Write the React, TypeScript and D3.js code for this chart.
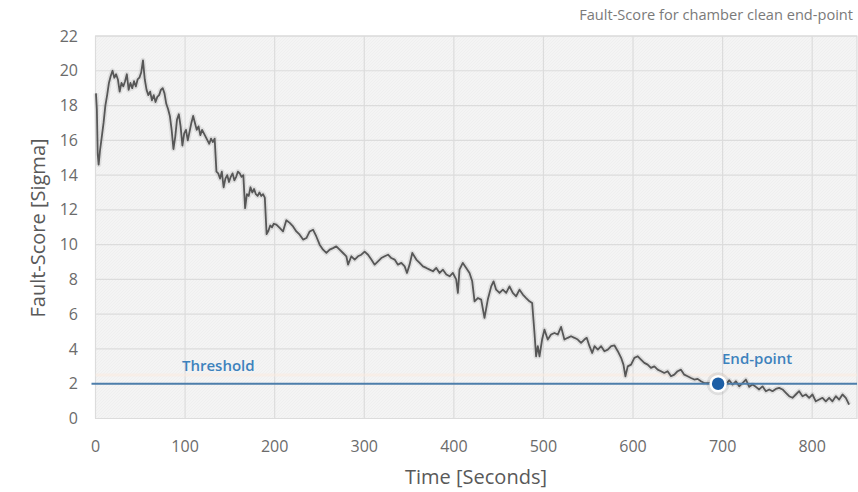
import React from 'react'
import * as d3 from 'd3'

// fault-score trace
const startTimes = [0.5, 1.5, 2.5, 3.5, 5, 7, 9, 11, 13, 15, 17, 19, 21, 23, 25, 27, 29, 31, 33, 35, 37, 39, 41, 43, 45, 47, 49, 51, 53, 55, 57, 59, 61, 63, 65, 67, 69, 71, 73, 75, 77, 79, 81, 83, 85, 87, 89, 91, 93, 95, 97, 99, 101, 103, 105, 107, 109, 111, 113, 115, 117, 119, 121, 123, 125, 127, 129, 131, 133, 135, 137, 139, 141, 143, 145, 147, 149, 151, 153, 155, 157, 159, 161, 163, 165, 167, 169, 171, 173, 175, 177, 179, 181, 183, 185, 187, 189, 191, 193, 195, 197, 199]
const startScores = [18.7, 17.8, 15.2, 14.6, 15.4, 16.2, 17.0, 18.0, 18.6, 19.3, 19.7, 20.0, 19.6, 19.8, 19.5, 18.8, 19.3, 19.1, 19.4, 19.8, 18.9, 19.3, 19.0, 19.4, 19.1, 19.5, 19.6, 19.9, 20.6, 19.5, 18.9, 18.6, 18.8, 18.3, 18.6, 18.2, 18.5, 18.6, 18.9, 19.0, 18.7, 18.1, 17.8, 17.4, 16.6, 15.5, 16.2, 17.2, 17.5, 16.8, 15.7, 16.4, 16.6, 16.0, 16.5, 17.0, 17.4, 17.0, 16.6, 16.8, 16.3, 16.6, 16.4, 16.2, 16.0, 15.8, 16.1, 15.9, 16.1, 14.2, 14.1, 13.8, 14.2, 13.3, 13.8, 14.0, 13.6, 13.9, 14.1, 13.7, 13.9, 14.2, 14.1, 13.9, 14.0, 12.1, 12.9, 12.8, 13.3, 13.0, 13.2, 12.9, 12.8, 13.0, 12.8, 12.9, 12.7, 10.6, 10.8, 11.1, 11.0, 11.2]

const midTimes = [201.9, 205.6, 209.3, 213.0, 216.8, 220.5, 224.2, 227.9, 231.7, 235.4, 239.1, 242.8, 246.5, 250.2, 254.0, 257.7, 261.4, 265.1, 268.8, 272.5, 276.3, 280.0, 281.9, 285.6, 289.3, 293.0, 296.7, 300.4, 304.2, 307.9, 311.6, 315.3, 319.0, 322.8, 326.5, 330.2, 333.9, 337.6, 341.4, 345.1, 347.7, 350.6, 353.6, 358.1, 361.8, 365.5, 369.2, 373.0, 376.7, 380.4, 384.1, 387.8, 391.6, 395.3]
const midScores = [11.15, 10.96, 10.76, 11.4, 11.25, 11.05, 10.76, 10.57, 10.29, 10.38, 10.76, 10.86, 10.47, 10.0, 9.71, 9.52, 9.71, 9.8, 9.9, 9.71, 9.52, 9.33, 8.85, 9.33, 9.14, 9.33, 9.42, 9.6, 9.42, 9.14, 8.85, 9.04, 9.23, 9.33, 9.42, 9.23, 9.14, 8.85, 8.95, 8.75, 8.37, 8.85, 9.52, 9.14, 8.95, 8.75, 8.66, 8.56, 8.47, 8.66, 8.37, 8.56, 8.28, 8.18]

const dropTimes = [398.9, 402.6, 404.5, 406.3, 410.0, 413.8, 417.5, 420.5, 423.1, 426.8, 430.5, 434.2, 437.9, 441.7, 444.3, 447.2, 451.0, 454.7, 458.4, 462.1, 465.8, 469.5, 473.3, 477.0, 480.7, 484.4, 487.4, 490.0, 491.8, 493.7, 495.6, 498.5, 501.1, 504.8, 508.5, 512.3, 516.0, 519.7, 523.4, 527.1, 530.8, 534.6, 538.3, 542.0, 545.7, 548.3, 551.4, 554.4, 557.0, 560.7, 564.4, 568.1, 571.8, 575.6, 579.3, 583.0, 586.7, 589.3, 591.5, 594.1, 597.8, 601.5, 605.3]
const dropScores = [8.37, 8.0, 7.22, 8.56, 8.95, 8.66, 8.37, 7.89, 6.74, 6.93, 6.84, 5.79, 6.84, 7.6, 7.89, 7.41, 7.22, 7.41, 7.22, 7.6, 7.22, 7.03, 7.41, 7.13, 6.93, 6.74, 6.64, 4.92, 3.58, 4.16, 3.58, 4.54, 5.11, 4.54, 4.83, 4.92, 4.83, 5.27, 4.54, 4.64, 4.73, 4.64, 4.54, 4.35, 4.54, 4.64, 4.16, 3.77, 4.16, 3.96, 4.16, 3.87, 3.96, 4.16, 4.2, 3.87, 3.49, 3.1, 2.43, 3.0, 3.1, 3.49, 3.58]

const tailTimes = [608.9, 612.6, 616.3, 620.0, 623.8, 627.5, 631.2, 634.9, 638.6, 642.4, 646.1, 649.8, 653.5, 657.2, 660.9, 664.7, 668.4, 672.1, 675.8, 679.5, 685.1, 690.7, 695.5, 700.0, 703.6, 707.4, 711.1, 714.8, 718.5, 722.2, 726.0, 729.7, 733.4, 737.1, 740.8, 744.5, 748.3, 752.0, 755.7, 759.4, 763.1, 766.9, 770.6, 774.3, 778.0, 781.7, 785.4, 789.2, 792.9, 796.6, 800.3, 804.0, 807.8, 811.5, 815.2, 818.9, 822.6, 826.4, 830.1, 833.8, 837.5, 841.2]
const tailScores = [3.39, 3.2, 3.1, 2.91, 3.0, 2.81, 2.72, 2.62, 2.72, 2.43, 2.52, 2.72, 2.81, 2.52, 2.43, 2.33, 2.24, 2.28, 2.14, 2.04, 2.04, 2.1, 2.14, 2.0, 1.95, 2.2, 1.95, 2.14, 1.85, 2.04, 2.24, 1.82, 1.95, 1.82, 1.67, 1.85, 1.57, 1.67, 1.57, 1.7, 1.76, 1.67, 1.48, 1.28, 1.19, 1.38, 1.57, 1.28, 1.38, 1.19, 1.38, 0.99, 1.09, 1.19, 0.99, 1.19, 0.99, 1.28, 1.09, 1.38, 1.19, 0.8]

const xTicks = [0, 100, 200, 300, 400, 500, 600, 700, 800]
const yTicks = [0, 2, 4, 6, 8, 10, 12, 14, 16, 18, 20, 22]
const threshold = 2
const endPointTime = 695
const endPointScore = 2

const font = '"Open Sans", "DejaVu Sans", sans-serif'

const App: React.FunctionComponent = () => {
  const width = 858
  const height = 492

  const x = d3.scaleLinear().domain([0, 850]).range([95.5, 857])
  const y = d3.scaleLinear().domain([0, 22]).range([418.5, 36])

  const times = [...startTimes, ...midTimes, ...dropTimes, ...tailTimes]
  const scores = [...startScores, ...midScores, ...dropScores, ...tailScores]
  const points: [number, number][] = times.map((t, i) => [t, scores[i]])

  const line = d3
    .line<[number, number]>()
    .x(d => x(d[0]))
    .y(d => y(d[1]))

  const path = line(points) || ''
  const [x0, x1] = x.range()
  const [yBottom, yTop] = y.range()

  return (
    <svg
      width={width}
      height={height}
      style={{ position: 'absolute', left: 0, top: 0, background: '#fff' }}
    >
      <defs>
        <pattern id="hatch" width="3" height="3" patternUnits="userSpaceOnUse">
          <rect width="3" height="3" fill="#f4f4f4" />
          <path d="M0,3 L3,0" stroke="#efefef" strokeWidth="1" />
        </pattern>
      </defs>

      <text x={853} y={20} textAnchor="end" fontFamily={font} fontSize={14.6} fill="#7a7a7a">
        Fault-Score for chamber clean end-point
      </text>

      <rect x={x0} y={yTop} width={x1 - x0} height={yBottom - yTop} fill="url(#hatch)" stroke="#d6d6d6" />

      {yTicks.map(t => (
        <line key={'gy' + t} x1={x0} x2={x1} y1={y(t)} y2={y(t)} stroke="#dcdcdc" strokeWidth={1.2} />
      ))}
      {xTicks.map(t => (
        <line key={'gx' + t} x1={x(t)} x2={x(t)} y1={yTop} y2={yBottom} stroke="#dcdcdc" strokeWidth={1.2} />
      ))}

      {yTicks.map(t => (
        <text
          key={'ly' + t}
          x={78}
          y={y(t)}
          dy="0.35em"
          textAnchor="end"
          fontFamily={font}
          fontSize={16}
          fill="#6b6b6b"
        >
          {t}
        </text>
      ))}
      {xTicks.map(t => (
        <text
          key={'lx' + t}
          x={x(t)}
          y={452}
          textAnchor="middle"
          fontFamily={font}
          fontSize={16}
          fill="#6b6b6b"
        >
          {t}
        </text>
      ))}

      <text x={476} y={484} textAnchor="middle" fontFamily={font} fontSize={20} fill="#595959">
        Time [Seconds]
      </text>
      <text
        transform="translate(38,228) rotate(-90)"
        dy="0.35em"
        textAnchor="middle"
        fontFamily={font}
        fontSize={20}
        fill="#595959"
      >
        Fault-Score [Sigma]
      </text>

      <line x1={x0} x2={x1} y1={y(2.5)} y2={y(2.5)} stroke="#fcebdf" strokeWidth={3} opacity={0.55} />

      <path d={path} fill="none" stroke="#b8b8b8" strokeWidth={5} strokeOpacity={0.35} strokeLinejoin="round" />
      <path d={path} fill="none" stroke="#575757" strokeWidth={1.8} strokeLinejoin="round" />

      <line x1={x0 - 4} x2={x1} y1={y(threshold)} y2={y(threshold)} stroke="#4d7eab" strokeWidth={2} />
      <text x={182} y={371} fontFamily={font} fontSize={15} fontWeight={600} fill="#3d82bd">
        Threshold
      </text>

      <circle cx={x(endPointTime)} cy={y(endPointScore)} r={11.5} fill="#000" opacity={0.08} />
      <circle cx={x(endPointTime)} cy={y(endPointScore)} r={7.5} fill="#1d5fa6" stroke="#fff" strokeWidth={2.5} />
      <text x={722} y={364} fontFamily={font} fontSize={15} fontWeight={600} fill="#3d82bd">
        End-point
      </text>
    </svg>
  )
}

export default App
